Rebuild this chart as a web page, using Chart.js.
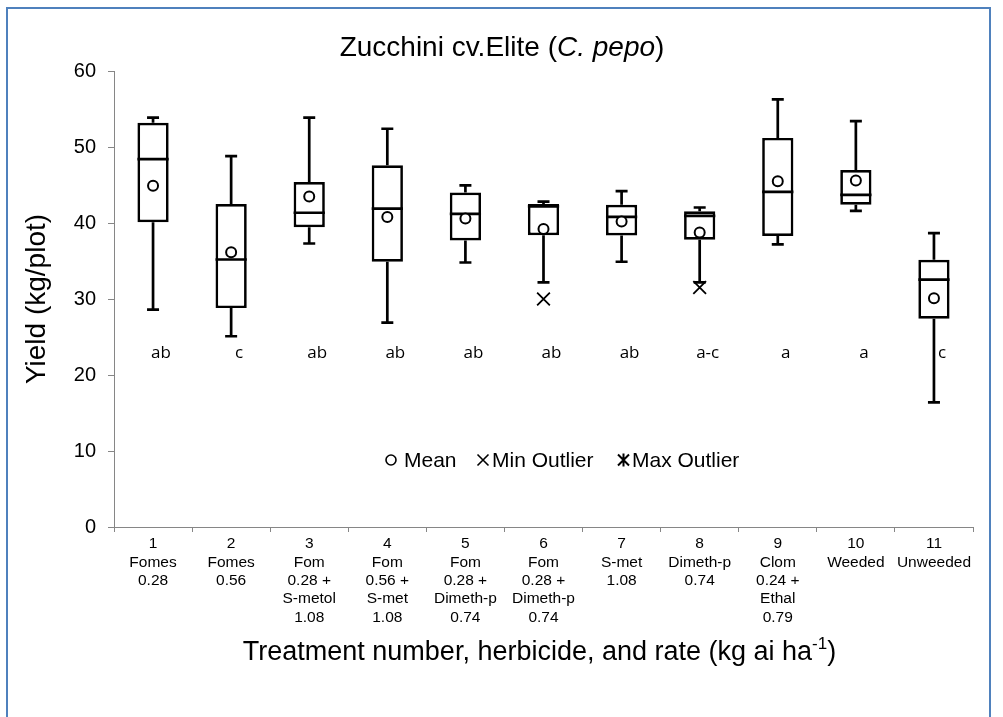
<!DOCTYPE html>
<html><head><meta charset="utf-8">
<script src="https://cdn.jsdelivr.net/npm/chart.js@4.4.1/dist/chart.umd.min.js"></script>
<style>html,body{margin:0;padding:0;background:#fff;}canvas{display:block;}</style>
</head><body>
<canvas id="c" width="1003" height="717"></canvas>
<script>
// ---- data ----
const categories = ['1','2','3','4','5','6','7','8','9','10','11'];
const tickLabels = [
  ['1','Fomes','0.28'],
  ['2','Fomes','0.56'],
  ['3','Fom','0.28 +','S-metol','1.08'],
  ['4','Fom','0.56 +','S-met','1.08'],
  ['5','Fom','0.28 +','Dimeth-p','0.74'],
  ['6','Fom','0.28 +','Dimeth-p','0.74'],
  ['7','S-met','1.08'],
  ['8','Dimeth-p','0.74'],
  ['9','Clom','0.24 +','Ethal','0.79'],
  ['10','Weeded'],
  ['11','Unweeded']
];
const whiskerMin = [28.6, 25.1, 37.3, 26.9, 34.8, 32.2, 34.9, 32.2, 37.2, 41.6, 16.4];
const q1         = [40.1, 28.8, 39.45, 34.9, 37.7, 38.4, 38.35, 37.8, 38.3, 42.4, 27.4];
const median     = [48.4, 35.2, 41.35, 41.9, 41.2, 42.2, 40.8, 40.95, 44.1, 43.7, 32.55];
const q3         = [53.2, 42.5, 45.4, 47.6, 44.0, 42.5, 42.4, 41.55, 51.2, 46.96, 35.15];
const whiskerMax = [53.86, 48.8, 53.86, 52.4, 44.94, 42.8, 44.2, 42.04, 56.27, 53.4, 38.66];
const means      = [44.9, 36.15, 43.5, 40.8, 40.6, 39.2, 40.2, 38.75, 45.5, 45.6, 30.1];
const minOutliers = [null, null, null, null, null, 30.0, null, 31.5, null, null, null];
const maxOutliers = [null, null, null, null, null, null, null, null, null, null, null];
const letters = ['ab','c','ab','ab','ab','ab','ab','a-c','a','a','c'];
const letterLevel = 22.3;
const yTicks = {min: 0, max: 60, step: 10};

const FONT = '"Liberation Sans", Arial, sans-serif';
const LW = 2.7;

const boxPlugin = {
  id: 'boxWhiskers',
  afterDatasetDraw(chart, args) {
    if (args.index !== 0) return;
    const ctx = chart.ctx, x = chart.scales.x, y = chart.scales.y;
    const meta = chart.getDatasetMeta(0);
    ctx.save();
    ctx.strokeStyle = '#000';
    ctx.lineWidth = LW;
    for (let i = 0; i < categories.length; i++) {
      const cx = x.getPixelForValue(i);
      const w = meta.data[i].width;
      const pMin = y.getPixelForValue(whiskerMin[i]);
      const pQ1 = y.getPixelForValue(q1[i]);
      const pMed = y.getPixelForValue(median[i]);
      const pQ3 = y.getPixelForValue(q3[i]);
      const pMax = y.getPixelForValue(whiskerMax[i]);
      ctx.beginPath();
      ctx.moveTo(cx, pQ1); ctx.lineTo(cx, pMin);
      ctx.moveTo(cx - 6, pMin); ctx.lineTo(cx + 6, pMin);
      ctx.moveTo(cx, pQ3); ctx.lineTo(cx, pMax);
      ctx.moveTo(cx - 6, pMax); ctx.lineTo(cx + 6, pMax);
      ctx.moveTo(cx - w / 2, pMed); ctx.lineTo(cx + w / 2, pMed);
      ctx.stroke();
    }
    ctx.restore();
  }
};

const decoPlugin = {
  id: 'deco',
  beforeDraw(chart) {
    const ctx = chart.ctx;
    ctx.save();
    ctx.fillStyle = '#fff';
    ctx.fillRect(0, 0, chart.width, chart.height);
    ctx.strokeStyle = '#4F81BD';
    ctx.lineWidth = 2;
    ctx.strokeRect(7, 8, 983, 800);
    ctx.restore();
  },
  afterDraw(chart) {
    const ctx = chart.ctx, x = chart.scales.x, y = chart.scales.y;
    ctx.save();
    ctx.fillStyle = '#000';
    // significance letters
    ctx.font = '17px "Open Sans", sans-serif';
    ctx.textAlign = 'center';
    ctx.textBaseline = 'alphabetic';
    letters.forEach((t, i) => {
      ctx.fillText(t, x.getPixelForValue(i) + 8, y.getPixelForValue(letterLevel));
    });
    // main title with italic part
    ctx.textAlign = 'left';
    const tSize = 28;
    const parts = [['Zucchini cv.Elite (', ''], ['C. pepo', 'italic '], [')', '']];
    let tw = 0;
    parts.forEach(p => { ctx.font = p[1] + tSize + 'px ' + FONT; tw += ctx.measureText(p[0]).width; });
    let tx = 502 - tw / 2;
    parts.forEach(p => { ctx.font = p[1] + tSize + 'px ' + FONT; ctx.fillText(p[0], tx, 56); tx += ctx.measureText(p[0]).width; });
    // x axis title with superscript
    const aSize = 27;
    ctx.font = aSize + 'px ' + FONT;
    const s1 = 'Treatment number, herbicide, and rate (kg ai ha';
    const w1 = ctx.measureText(s1).width;
    ctx.font = '17px ' + FONT;
    const w2 = ctx.measureText('-1').width;
    ctx.font = aSize + 'px ' + FONT;
    const w3 = ctx.measureText(')').width;
    let ax = (chart.chartArea.left + chart.chartArea.right) / 2 - 4 - (w1 + w2 + w3) / 2;
    const ay = 660;
    ctx.fillText(s1, ax, ay); ax += w1;
    ctx.font = '17px ' + FONT;
    ctx.fillText('-1', ax, ay - 11); ax += w2;
    ctx.font = aSize + 'px ' + FONT;
    ctx.fillText(')', ax, ay);
    // y axis title
    ctx.save();
    ctx.translate(37, (chart.chartArea.top + chart.chartArea.bottom) / 2);
    ctx.rotate(-Math.PI / 2);
    ctx.textAlign = 'center';
    ctx.textBaseline = 'middle';
    ctx.font = '28px ' + FONT;
    ctx.fillText('Yield (kg/plot)', 0, 0);
    ctx.restore();
    // legend
    const ly = 460;
    ctx.font = '21px ' + FONT;
    ctx.textBaseline = 'middle';
    ctx.textAlign = 'left';
    ctx.lineWidth = 1.6;
    ctx.strokeStyle = '#000';
    ctx.beginPath(); ctx.arc(391, ly, 5, 0, Math.PI * 2); ctx.stroke();
    ctx.fillText('Mean', 404, ly + 1);
    ctx.beginPath();
    ctx.moveTo(477.5, ly - 5.5); ctx.lineTo(488.5, ly + 5.5);
    ctx.moveTo(488.5, ly - 5.5); ctx.lineTo(477.5, ly + 5.5);
    ctx.stroke();
    ctx.fillText('Min Outlier', 492, ly + 1);
    ctx.lineWidth = 2;
    ctx.beginPath();
    ctx.moveTo(618, ly - 5.5); ctx.lineTo(629, ly + 5.5);
    ctx.moveTo(629, ly - 5.5); ctx.lineTo(618, ly + 5.5);
    ctx.moveTo(623.5, ly - 6.5); ctx.lineTo(623.5, ly + 6.5);
    ctx.stroke();
    ctx.fillText('Max Outlier', 632, ly + 1);
    ctx.restore();
  }
};

new Chart(document.getElementById('c'), {
  type: 'bar',
  data: {
    labels: tickLabels,
    datasets: [
      { type: 'bar', label: 'Box', data: q1.map((v, i) => [v, q3[i]]),
        backgroundColor: '#fff', borderColor: '#000', borderWidth: LW, borderSkipped: false,
        barPercentage: 0.4, categoryPercentage: 1, order: 3 },
      { type: 'line', label: 'Mean', data: means, showLine: false, pointStyle: 'circle',
        pointRadius: 5, pointBorderWidth: 2, pointBackgroundColor: '#fff', pointBorderColor: '#000', order: 2 },
      { type: 'line', label: 'Min Outlier', data: minOutliers, showLine: false, pointStyle: 'crossRot',
        pointRadius: 9, pointBorderWidth: 1.8, pointBorderColor: '#000', order: 1 },
      { type: 'line', label: 'Max Outlier', data: maxOutliers, showLine: false, pointStyle: 'star',
        pointRadius: 8, pointBorderWidth: 1.8, pointBorderColor: '#000', order: 0 }
    ]
  },
  options: {
    responsive: false, animation: false, devicePixelRatio: 1,
    layout: { padding: { left: 54, top: 71, right: 30, bottom: 0 } },
    plugins: { legend: { display: false }, title: { display: false }, tooltip: { enabled: false } },
    scales: {
      x: {
        grid: { display: true, drawOnChartArea: false, offset: true, color: '#868686', tickLength: 5 },
        border: { color: '#868686', width: 1 },
        ticks: { font: { family: FONT, size: 15.5, lineHeight: 1.18 }, color: '#000', padding: 3,
                 maxRotation: 0, autoSkip: false },
        afterFit: s => { s.height = 190; }
      },
      y: {
        min: yTicks.min, max: yTicks.max,
        ticks: { stepSize: yTicks.step, font: { family: FONT, size: 20 }, color: '#000', padding: 12 },
        grid: { drawOnChartArea: false, color: '#868686', tickLength: 6 },
        border: { color: '#868686', width: 1 },
        afterFit: s => { s.width = 60; }
      }
    }
  },
  plugins: [boxPlugin, decoPlugin]
});
</script>
</body></html>
